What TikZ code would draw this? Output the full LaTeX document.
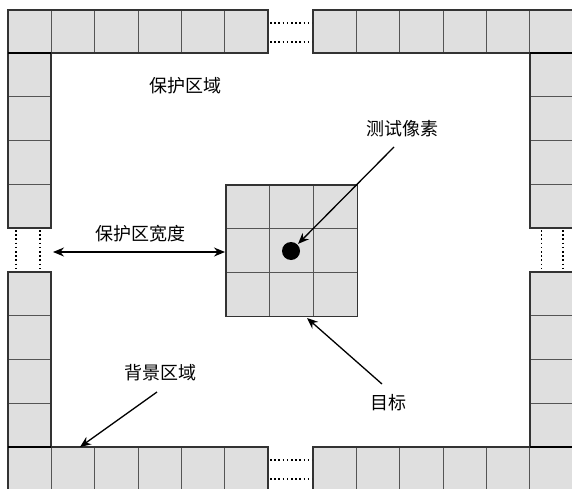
\documentclass[tikz,border=0pt]{standalone}
\usepackage{fontspec}
\newfontfamily\cjk{Noto Sans CJK SC}
\usetikzlibrary{arrows.meta}
\definecolor{cellfill}{HTML}{DFDFDF}
\definecolor{outline}{HTML}{333333}
\definecolor{inner}{HTML}{555555}
\begin{document}
\begin{tikzpicture}[x=1pt,y=-1pt,
  lbl/.style={font=\cjk\fontsize{18}{21}\selectfont, inner sep=0pt},
  arr/.style={-{Stealth[length=11pt,width=9pt]}, line width=1.3pt, black},
  darr/.style={{Stealth[length=11pt,width=9pt]}-{Stealth[length=11pt,width=9pt]}, line width=1.3pt, black},
  dots/.style={line width=1.6pt, dash pattern=on 1.6pt off 2.6pt, black},
  innerline/.style={inner, line width=0.8pt},
  outerline/.style={outline, line width=1.3pt},
  thickedge/.style={black, line width=2.4pt}]
\useasboundingbox (0,0) rectangle (572,489);

% horizontal blocks (top and bottom)
\foreach \x/\y in {8/10, 313/10, 8/447, 313/447}{
  \fill[cellfill] (\x,\y) rectangle ++(260,43);
  \foreach \i in {1,...,5}
    \draw[innerline] (\x+\i*43.33,\y) -- ++(0,43);
  \draw[outerline] (\x,\y) rectangle ++(260,43);
}
% vertical blocks (left and right)
\foreach \x/\y in {8/53, 8/272, 530/53, 530/272}{
  \fill[cellfill] (\x,\y) rectangle ++(43,175);
  \foreach \i in {1,...,3}
    \draw[innerline] (\x,\y+\i*43.75) -- ++(43,0);
  \draw[outerline] (\x,\y) rectangle ++(43,175);
}
% thick corner edges
\draw[thickedge] (8,53) -- (51,53);
\draw[thickedge] (530,53) -- (573,53);
\draw[thickedge] (8,447) -- (51,447);
\draw[thickedge] (530,447) -- (573,447);

% dotted gaps
\draw[dots] (270,23) -- (312,23);
\draw[dots] (270,42) -- (312,42);
\draw[dots] (270,460) -- (312,460);
\draw[dots] (270,479) -- (312,479);
\draw[dots] (16,230) -- (16,271);
\draw[dots] (40,230) -- (40,271);
\draw[dots] (541.5,230) -- (541.5,271);
\draw[dots] (563,230) -- (563,271);

% target 3x3
\node[fill=cellfill, minimum width=131pt, minimum height=131pt, inner sep=0pt, anchor=north west] (target) at (226,185) {};
\foreach \i in {1,2}{
  \draw[innerline] (226+\i*43.67,185) -- ++(0,131);
  \draw[innerline] (226,185+\i*43.67) -- ++(131,0);
}
\draw[outerline] (target.north west) rectangle (target.south east);
\node[circle, fill=black, minimum size=18pt, inner sep=0pt, outer sep=1pt] (dot) at (291,251) {};

% labels
\node[lbl] (guard) at (185,86) {保护区域};
\node[lbl] (test) at (402,129) {测试像素};
\node[lbl] (width) at (140,234) {保护区宽度};
\node[lbl] (bg) at (160,373) {背景区域};
\node[lbl] (tgt) at (388,403) {目标};

% arrows
\coordinate (testS) at (394,147);
\draw[arr] (testS) -- (dot);
\coordinate (wL) at (53,252);
\coordinate (wR) at (225,252);
\draw[darr] (wL) -- (wR);
\coordinate (bgS) at (157,392);
\coordinate (bgE) at (80,447);
\draw[arr] (bgS) -- (bgE);
\coordinate (tgtS) at (382,384);
\coordinate (tgtE) at (307,318);
\draw[arr] (tgtS) -- (tgtE);
\end{tikzpicture}
\end{document}
